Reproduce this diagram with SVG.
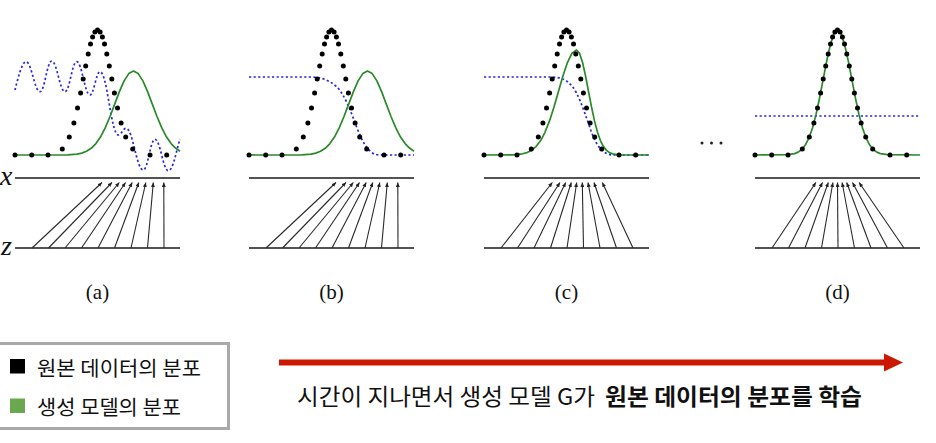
<svg xmlns="http://www.w3.org/2000/svg" xmlns:xlink="http://www.w3.org/1999/xlink" width="936" height="443" viewBox="0 0 936 443">
<style>
.axis{stroke:#1a1a1a;stroke-width:1.6;fill:none}
.arr line{stroke:#2a2a2a;stroke-width:1.1;marker-end:url(#ah)}
.gen{fill:none;stroke:#2a8a2a;stroke-width:1.7;stroke-linejoin:round}
.disc{fill:none;stroke:#2626e6;stroke-width:1.7;stroke-dasharray:2.2 2.4}
.lbl{font-family:"Liberation Serif",serif;font-size:21px;text-anchor:middle;fill:#111}
.var{font-family:"Liberation Serif",serif;font-style:italic;font-size:28px;fill:#111}
.kr{font-family:"Noto Sans CJK KR","Noto Sans",sans-serif;fill:#111}
</style>
<defs>
<marker id="ah" markerUnits="userSpaceOnUse" markerWidth="5" markerHeight="4" refX="4.5" refY="2" orient="auto"><path d="M0,0 L4.5,2 L0,4 z" fill="#222"/></marker>
<g id="data-dots" fill="#000">
<circle cx="0" cy="155" r="2.5"/><circle cx="16.7" cy="155" r="2.5"/><circle cx="33" cy="155" r="2.5"/>
<circle cx="47.3" cy="149" r="2.5"/><circle cx="54.3" cy="137" r="2.5"/><circle cx="58.9" cy="123" r="2.5"/>
<circle cx="62.5" cy="108" r="2.5"/><circle cx="65.6" cy="93" r="2.5"/><circle cx="68.2" cy="79" r="2.5"/>
<circle cx="70.7" cy="66" r="2.5"/><circle cx="73.2" cy="54" r="2.5"/><circle cx="75.5" cy="44" r="2.5"/>
<circle cx="77.6" cy="37" r="2.5"/><circle cx="79.9" cy="32" r="2.5"/><circle cx="82.5" cy="30" r="2.5"/>
<circle cx="85.1" cy="32" r="2.5"/><circle cx="87.4" cy="37" r="2.5"/><circle cx="89.5" cy="44" r="2.5"/>
<circle cx="91.8" cy="54" r="2.5"/><circle cx="94.3" cy="66" r="2.5"/><circle cx="96.8" cy="79" r="2.5"/>
<circle cx="99.4" cy="93" r="2.5"/><circle cx="102.5" cy="108" r="2.5"/><circle cx="106.1" cy="123" r="2.5"/>
<circle cx="110.7" cy="137" r="2.5"/><circle cx="117.7" cy="149" r="2.5"/><circle cx="135" cy="155" r="2.5"/>
<circle cx="151.7" cy="155" r="2.5"/>
</g>
<path id="gen-ab" class="gen" d="M0,155 L52.7,154.8 L62.1,154.1 L66.8,153.1 L71.5,151.3 L76.2,148.3 L80.9,143.6 L85.6,136.8 L90.3,127.7 L95,116.5 L99.7,104.1 L104.4,91.6 L109.1,80.9 L113.8,73.6 L118.5,71 L123.2,73.6 L127.9,80.9 L132.6,91.6 L137.3,104.1 L142,116.5 L146.7,127.7 L151.4,136.8 L156.1,143.6 L160.8,148.3 L165,151.2"/>
<g id="axes"><line class="axis" x1="0" y1="178" x2="165" y2="178"/><line class="axis" x1="0" y1="248" x2="165" y2="248"/></g>
</defs>

<g id="panel-a">
<use xlink:href="#axes" href="#axes" x="15"/>
<path class="disc" transform="translate(15,0)" d="M0,90 C3,78 7,61.7 11,61.7 C16.6,61.7 19.4,91.7 25,91.7 C29.7,91.7 32,61 36.7,61 C42,61 44.7,91.7 50,91.7 C54.7,91.7 57,61.7 61.7,61.7 C67,61.7 69.7,95 75,95 C79,95 81,71.7 85,71.7 C92.3,71.7 96,135 103.3,135 C106.4,135 107.9,128.3 111,128.3 C118,128.3 121.4,170 128.3,170 C133,170 135.3,139.3 140,139.3 C145.3,139.3 148,170.7 153.3,170.7 C158,170.7 161,152 165,139"/>
<use xlink:href="#gen-ab" href="#gen-ab" x="15"/>
<use xlink:href="#data-dots" href="#data-dots" x="15"/>
<text class="var" x="0" y="185">x</text>
<text class="var" x="1" y="255">z</text>
<text class="lbl" x="97.5" y="299">(a)</text>
</g>

<g id="panel-b">
<use xlink:href="#axes" href="#axes" x="249"/>
<path class="disc" transform="translate(249,0)" d="M0,77 L62,77 C72,77 80,80 88,87 C96,95 102,112 108,128 C113,141 118,150 125,154 C128,155 132,155 135,155 L165,155"/>
<use xlink:href="#gen-ab" href="#gen-ab" x="249"/>
<use xlink:href="#data-dots" href="#data-dots" x="249"/>
<text class="lbl" x="331.5" y="299">(b)</text>
</g>

<g id="panel-c">
<use xlink:href="#axes" href="#axes" x="484"/>
<path class="disc" transform="translate(484,0)" d="M0,77 L66,77 C76,77 82,79 88,86 C94,93 99,108 105,125 C109,137 113,147 120,152 C124,155 128,155 132,155 L165,155"/>
<path class="gen" transform="translate(484,0)" d="M0,155 L29.5,154.8 L38.5,153.8 L43,152.6 L47.5,150.4 L52,146.6 L56.5,140.8 L61,132.3 L65.5,120.9 L70,106.9 L74.5,91.3 L79,75.75 L83.5,62.3 L88,53.2 L92.5,50 L95.5,53.2 L98.5,62.3 L101.5,75.75 L104.5,91.3 L107.5,106.9 L110.5,120.9 L113.5,132.3 L116.5,140.8 L119.5,146.6 L122.5,150.4 L125.5,152.6 L128.5,153.8 L134.5,154.8 L165,155"/>
<use xlink:href="#data-dots" href="#data-dots" x="484"/>
<text class="lbl" x="566.5" y="299">(c)</text>
</g>

<g id="ellipsis" fill="#222">
<circle cx="702" cy="143" r="1.5"/><circle cx="711.5" cy="143" r="1.5"/><circle cx="721" cy="143" r="1.5"/>
</g>

<g id="panel-d">
<use xlink:href="#axes" href="#axes" x="755"/>
<path class="disc" d="M755,116 L920,116"/>
<path class="gen" transform="translate(755,0)" d="M0,155 L32.5,154.7 L39.6,153.6 L43.2,152.15 L46.75,149.5 L50.3,145.05 L53.9,138.1 L57.5,128 L61.05,114.4 L64.6,97.8 L68.2,79.2 L71.8,60.65 L75.35,44.7 L78.9,33.85 L82.5,30 L86.1,33.85 L89.65,44.7 L93.2,60.65 L96.8,79.2 L100.4,97.8 L103.95,114.4 L107.5,128 L111.1,138.1 L114.7,145.05 L118.25,149.5 L121.8,152.15 L125.4,153.6 L132.5,154.7 L165,155"/>
<use xlink:href="#data-dots" href="#data-dots" x="755"/>
<text class="lbl" x="837.5" y="299">(d)</text>
</g>

<g id="connectors" class="arr">
<g transform="translate(15,0)">
<line x1="17" y1="248" x2="87" y2="182.5"/><line x1="33.5" y1="248" x2="97" y2="182.5"/><line x1="50" y1="248" x2="104.3" y2="182.5"/>
<line x1="66.5" y1="248" x2="110.5" y2="182.5"/><line x1="83" y1="248" x2="117.2" y2="182.5"/><line x1="99.5" y1="248" x2="123.8" y2="182.5"/>
<line x1="116" y1="248" x2="130.8" y2="182.5"/><line x1="132.5" y1="248" x2="138.3" y2="182.5"/><line x1="149" y1="248" x2="148.8" y2="182.5"/>
</g>
<g transform="translate(249,0)">
<line x1="17" y1="248" x2="87" y2="182.5"/><line x1="33.5" y1="248" x2="97" y2="182.5"/><line x1="50" y1="248" x2="104.3" y2="182.5"/>
<line x1="66.5" y1="248" x2="110.5" y2="182.5"/><line x1="83" y1="248" x2="117.2" y2="182.5"/><line x1="99.5" y1="248" x2="123.8" y2="182.5"/>
<line x1="116" y1="248" x2="130.8" y2="182.5"/><line x1="132.5" y1="248" x2="138.3" y2="182.5"/><line x1="149" y1="248" x2="148.8" y2="182.5"/>
</g>
<g transform="translate(484,0)">
<line x1="17" y1="248" x2="68.3" y2="182.5"/><line x1="33.5" y1="248" x2="76" y2="182.5"/><line x1="50" y1="248" x2="81.7" y2="182.5"/>
<line x1="66.5" y1="248" x2="87.3" y2="182.5"/><line x1="83" y1="248" x2="92.7" y2="182.5"/><line x1="99.5" y1="248" x2="98.3" y2="182.5"/>
<line x1="116" y1="248" x2="104" y2="182.5"/><line x1="132.5" y1="248" x2="110" y2="182.5"/><line x1="149" y1="248" x2="118.3" y2="182.5"/>
</g>
<g transform="translate(755,0)">
<line x1="17" y1="248" x2="60.9" y2="182.5"/><line x1="33.5" y1="248" x2="67.5" y2="182.5"/><line x1="50" y1="248" x2="73.3" y2="182.5"/>
<line x1="66.5" y1="248" x2="77.9" y2="182.5"/><line x1="83" y1="248" x2="82.5" y2="182.5"/><line x1="99.5" y1="248" x2="87.1" y2="182.5"/>
<line x1="116" y1="248" x2="91.7" y2="182.5"/><line x1="132.5" y1="248" x2="97.5" y2="182.5"/><line x1="149" y1="248" x2="104.1" y2="182.5"/>
</g>
</g>

<g id="legend">
<rect x="-1.5" y="343.5" width="230" height="85" fill="#fff" stroke="#a9a9a9" stroke-width="3"/>
<rect x="10" y="359" width="15" height="14.5" fill="#000"/>
<text class="kr" x="37" y="375.5" font-size="20.5" textLength="164" lengthAdjust="spacingAndGlyphs">원본 데이터의 분포</text>
<rect x="10" y="398.5" width="15" height="14.5" fill="#6aa84f"/>
<text class="kr" x="37" y="414.5" font-size="20.5" textLength="144" lengthAdjust="spacingAndGlyphs">생성 모델의 분포</text>
</g>

<g id="time-arrow">
<line x1="279" y1="362.5" x2="886" y2="362.5" stroke="#cc1800" stroke-width="6"/>
<polygon points="884,353.5 903,362.5 884,371.5" fill="#cc1800"/>
<text class="kr" x="297" y="405" font-size="23" textLength="298" lengthAdjust="spacingAndGlyphs">시간이 지나면서 생성 모델 G가</text>
<text class="kr" x="605" y="405" font-size="23" font-weight="bold" textLength="257" lengthAdjust="spacingAndGlyphs">원본 데이터의 분포를 학습</text>
</g>
</svg>
